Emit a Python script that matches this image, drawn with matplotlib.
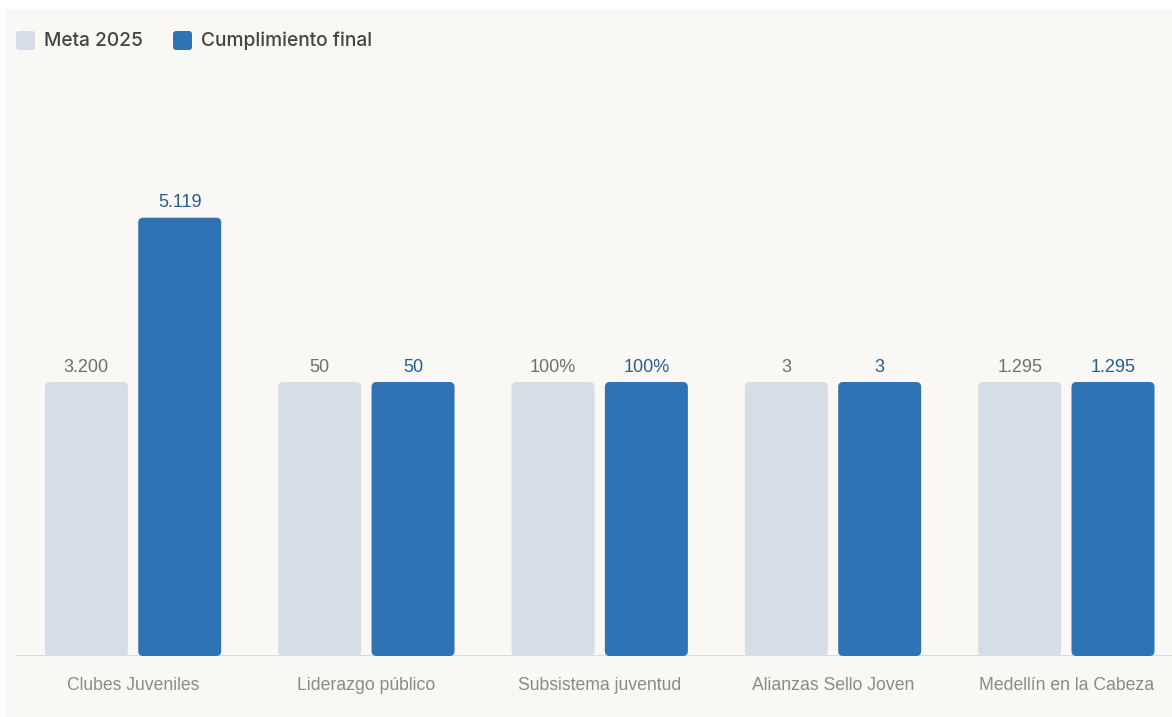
import matplotlib.pyplot as plt
import matplotlib.patches as patches
import numpy as np

categories = ["Clubes Juveniles", "Liderazgo público", "Subsistema juventud",
              "Alianzas Sello Joven", "Medellín en la Cabeza"]
meta = [3200, 50, 100, 3, 1295]
cumplimiento = [5119, 50, 100, 3, 1295]
units = ["", "", "%", "", ""]

META_COLOR = "#d6dde6"
CUMP_COLOR = "#2e74b5"
W, H = 1172, 717


def fmt(v, unit):
    return f"{v:,}".replace(",", ".") + unit


# each indicator is drawn relative to its own target
meta_rel = np.array(meta) / np.array(meta)
cump_rel = np.array(cumplimiento) / np.array(meta)

fig = plt.figure(figsize=(W / 100, H / 100), dpi=100, facecolor="white")
fig.patches.append(patches.Rectangle((6 / W, 0), 1, 1 - 9 / H, transform=fig.transFigure,
                                     facecolor="#f9f8f5", edgecolor="none", zorder=-10))

ax = fig.add_axes([16.4 / W, (H - 656) / H, 1166.6 / W, 576 / H])
ax.set_facecolor("none")
ax.set_xlim(-0.5, 4.5)
ax.set_ylim(0, 576 / 274)
ax.axis("off")

bw = 83 / 233.3
off = 0.2
rx = 5 / 233.3
ry = 5 / 274


def rounded_bar(xc, h, color):
    ax.add_patch(patches.FancyBboxPatch(
        (xc - bw / 2, 0), bw, h,
        boxstyle=f"round,pad=0,rounding_size={rx}",
        mutation_aspect=ry / rx,
        facecolor=color, edgecolor="none", zorder=2))


x = np.arange(len(categories))
for i in x:
    rounded_bar(i - off, meta_rel[i], META_COLOR)
    rounded_bar(i + off, cump_rel[i], CUMP_COLOR)
    ax.annotate(fmt(meta[i], units[i]), (i - off, meta_rel[i]), xytext=(0, 14),
                textcoords="offset pixels", ha="center", va="center",
                fontsize=13, color="#6f6f6f", family="Liberation Sans")
    ax.annotate(fmt(cumplimiento[i], units[i]), (i + off, cump_rel[i]), xytext=(0, 15),
                textcoords="offset pixels", ha="center", va="center",
                fontsize=13, color="#2a5d8f", family="Liberation Sans")
    ax.annotate(categories[i], (i, 0), xytext=(0, -30), textcoords="offset pixels",
                ha="center", va="center", fontsize=12.7, color="#8a8a8a",
                family="Liberation Sans")

ax.axhline(0, color="#d4d4d4", lw=1.2, zorder=1)

# legend
legend = [("Meta 2025", META_COLOR, 16), ("Cumplimiento final", CUMP_COLOR, 173)]
for label, color, px in legend:
    fig.patches.append(patches.FancyBboxPatch(
        (px / W, (H - 50) / H), 19 / W, 19 / H,
        boxstyle=f"round,pad=0,rounding_size={3 / W}", mutation_aspect=W / H,
        transform=fig.transFigure, facecolor=color, edgecolor="none"))
    fig.text((px + 28) / W, (H - 41) / H, label, ha="left", va="center",
             fontsize=13.8, color="#444444", family="Inter", fontweight="medium")

fig.savefig("out.png", dpi=100, facecolor="white")
